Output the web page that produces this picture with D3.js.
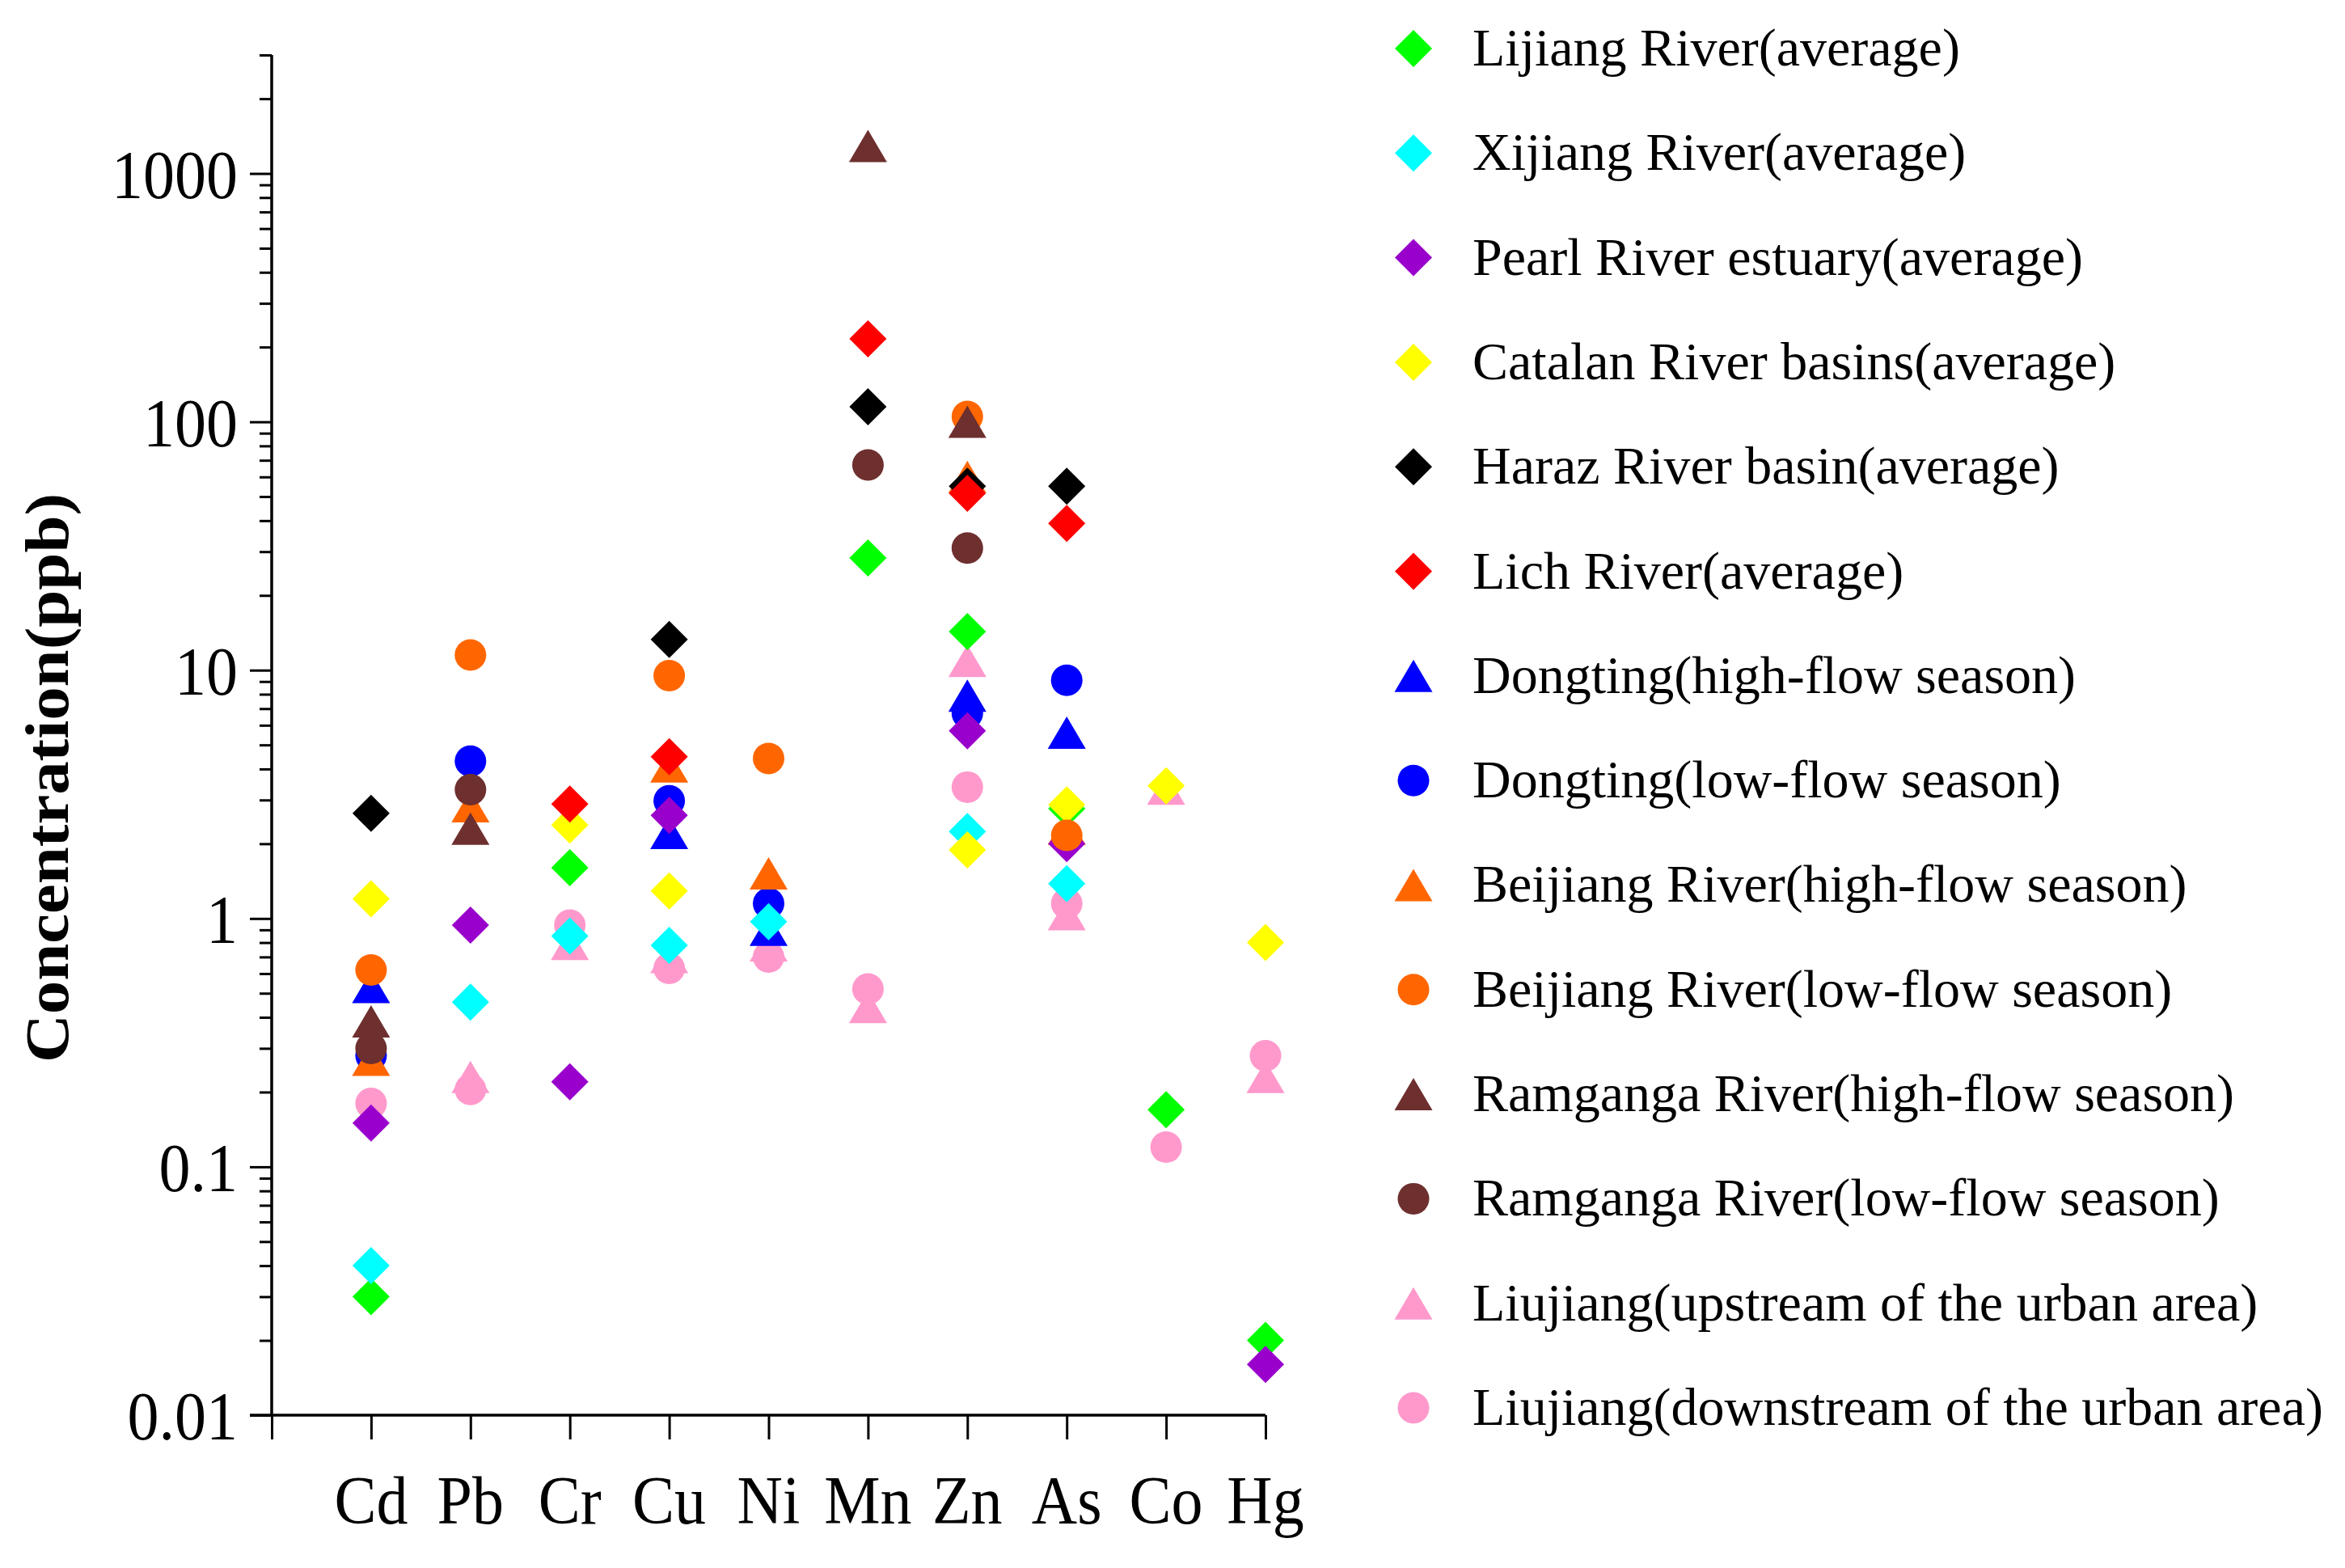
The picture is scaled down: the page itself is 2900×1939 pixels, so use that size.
<!DOCTYPE html>
<html>
<head>
<meta charset="utf-8">
<script src="https://cdn.jsdelivr.net/npm/d3@7.9.0/dist/d3.min.js"></script>
<style>
  body { margin: 0; background: #fff; }
  svg { display: block; }
  text { font-family: "Liberation Serif", "Times New Roman", serif; fill: #000; }
</style>
</head>
<body>
<div id="chart"></div>
<script>
// categories on the x axis
const elements = ['Cd', 'Pb', 'Cr', 'Cu', 'Ni', 'Mn', 'Zn', 'As', 'Co', 'Hg'];

const seriesNames = [
  'Lijiang River(average)',
  'Xijiang River(average)',
  'Pearl River estuary(average)',
  'Catalan River basins(average)',
  'Haraz River basin(average)',
  'Lich River(average)',
  'Dongting(high-flow season)',
  'Dongting(low-flow season)',
  'Beijiang River(high-flow season)',
  'Beijiang River(low-flow season)',
  'Ramganga River(high-flow season)',
  'Ramganga River(low-flow season)',
  'Liujiang(upstream of the urban area)',
  'Liujiang(downstream of the urban area)'
];
const seriesColors = ['#00ff00', '#00ffff', '#9900cc', '#ffff00', '#000000', '#ff0000',
  '#0000ff', '#0000ff', '#ff6600', '#ff6600', '#6e2f2f', '#6e2f2f', '#ff99cc', '#ff99cc'];
const seriesShapes = ['diamond', 'diamond', 'diamond', 'diamond', 'diamond', 'diamond',
  'triangle', 'circle', 'triangle', 'circle', 'triangle', 'circle', 'triangle', 'circle'];

// concentrations (ppb), one value per element, null = not reported
//                 Cd     Pb    Cr    Cu    Ni    Mn    Zn    As    Co    Hg
const lijiang   = [0.03,  null, 1.6,  null, null, 28.3, 14.3, 2.77, 0.17, 0.02];
const xijiang   = [0.04,  0.46, 0.85, 0.78, 0.97, null, 2.24, 1.38, null, null];
const pearl     = [0.15,  0.94, 0.22, 2.6,  null, null, 5.7,  2.0,  null, 0.016];
const catalan   = [1.2,   null, 2.38, 1.29, null, null, 1.89, 2.87, 3.42, 0.8];
const haraz     = [2.65,  null, null, 13.3, null, 115,  55,   55,   null, null];
const lich      = [null,  null, 2.89, 4.48, null, 216,  51.5, 39,   null, null];
const dongHigh  = [0.53,  null, null, 2.21, 0.9,  null, 7.9,  5.6,  null, null];
const dongLow   = [0.28,  4.3,  null, 2.98, 1.15, null, 6.7,  9.1,  null, null];
const beiHigh   = [0.27,  2.83, null, 4.1,  1.52, null, 60,   2.3,  null, null];
const beiLow    = [0.62,  11.5, null, 9.5,  4.41, null, 105,  2.16, null, null];
const ramHigh   = [0.385, 2.3,  null, null, null, 1290, 100,  null, null, null];
const ramLow    = [0.30,  3.3,  null, null, null, 67,   31,   null, null, null];
const liuUp     = [null,  0.23, 0.79, 0.7,  0.78, 0.44, 10.9, 1.04, 3.33, 0.23];
const liuDown   = [0.18,  0.205,0.94, 0.63, 0.70, 0.52, 3.38, 1.15, 0.12, 0.28];

const seriesValues = [lijiang, xijiang, pearl, catalan, haraz, lich, dongHigh, dongLow,
  beiHigh, beiLow, ramHigh, ramLow, liuUp, liuDown];

// order in which the series are painted (later ones sit on top)
const drawOrder = [12, 13, 0, 6, 7, 8, 1, 2, 3, 4, 5, 9, 10, 11];

const yMajorTicks = [0.01, 0.1, 1, 10, 100, 1000];
const yTickLabels = ['0.01', '0.1', '1', '10', '100', '1000'];

const width = 2900;
const height = 1939;

const svg = d3.select('#chart')
  .append('svg')
  .attr('width', width)
  .attr('height', height)
  .attr('viewBox', `0 0 ${width} ${height}`);

const plot = { left: 336, right: 1565, top: 68, bottom: 1750 };

const xScale = d3.scaleLinear()
  .domain([0, elements.length])
  .range([plot.left, plot.right]);

const yScale = d3.scaleLog()
  .domain([0.01, 3000])
  .range([plot.bottom, plot.top]);

// marker shapes
const DIA = 23, TRI_W = 47, TRI_H = 40, CIRC_R = 19.5;
function shapePath(shape) {
  if (shape === 'diamond') return `M0,${-DIA}L${DIA},0L0,${DIA}L${-DIA},0Z`;
  if (shape === 'triangle') return `M0,${-TRI_H / 2}L${TRI_W / 2},${TRI_H / 2}L${-TRI_W / 2},${TRI_H / 2}Z`;
  return d3.arc()({ innerRadius: 0, outerRadius: CIRC_R, startAngle: 0, endAngle: 2 * Math.PI });
}

// y axis: major ticks
const yAxis = d3.axisLeft(yScale)
  .tickValues(yMajorTicks)
  .tickSize(27)
  .tickFormat('');
const yAxisG = svg.append('g')
  .attr('transform', `translate(${plot.left},0)`)
  .call(yAxis);

// y axis: minor ticks
const minorTicks = yScale.ticks().filter(v => !yMajorTicks.includes(v));
minorTicks.push(3000);
svg.append('g')
  .attr('class', 'minor')
  .attr('transform', `translate(${plot.left},0)`)
  .call(d3.axisLeft(yScale).tickValues(minorTicks).tickSize(15).tickFormat(''))
  .call(g => g.select('.domain').remove());

// x axis
const xAxisG = svg.append('g')
  .attr('transform', `translate(0,${plot.bottom})`)
  .call(d3.axisBottom(xScale).tickValues(d3.range(0, elements.length + 1)).tickSize(30).tickFormat(''));

svg.selectAll('.domain').attr('stroke', '#000').attr('stroke-width', 3.5);
svg.selectAll('.tick line').attr('stroke', '#000').attr('stroke-width', 3);
xAxisG.select('.domain').attr('d', `M${plot.left - 27},0H${plot.right}`);
yAxisG.select('.domain').attr('d', `M0,${plot.top}V${plot.bottom}`);

// y tick labels
svg.append('g')
  .selectAll('text')
  .data(yMajorTicks)
  .join('text')
  .attr('transform', d => `translate(294,${yScale(d) + 30}) scale(1,1.09)`)
  .attr('text-anchor', 'end')
  .attr('font-size', 78)
  .text((d, i) => yTickLabels[i]);

// x category labels
svg.append('g')
  .selectAll('text')
  .data(elements)
  .join('text')
  .attr('transform', (d, i) => `translate(${xScale(i + 1)},1884) scale(1,1.09)`)
  .attr('text-anchor', 'middle')
  .attr('font-size', 78)
  .text(d => d);

// y axis title
svg.append('text')
  .attr('transform', 'translate(84,962) rotate(-90) scale(1.09,1)')
  .attr('text-anchor', 'middle')
  .attr('font-size', 76)
  .attr('font-weight', 'bold')
  .text('Concentration(ppb)');

// points
const points = svg.append('g').attr('class', 'points');
drawOrder.forEach(s => {
  const pts = seriesValues[s]
    .map((v, i) => ({ v, i }))
    .filter(d => d.v != null);
  points.append('g')
    .selectAll('path')
    .data(pts)
    .join('path')
    .attr('transform', d => `translate(${xScale(d.i + 1)},${yScale(d.v)})`)
    .attr('d', shapePath(seriesShapes[s]))
    .attr('fill', seriesColors[s]);
});

// legend
const legendY = d3.scalePoint()
  .domain(d3.range(seriesNames.length))
  .range([60, 1741]);
const legend = svg.append('g').attr('class', 'legend');
const rows = legend.selectAll('g')
  .data(seriesNames)
  .join('g')
  .attr('transform', (d, i) => `translate(1748,${legendY(i)})`);
rows.append('path')
  .attr('d', (d, i) => shapePath(seriesShapes[i]))
  .attr('fill', (d, i) => seriesColors[i]);
rows.append('text')
  .attr('x', 73)
  .attr('y', 21)
  .attr('font-size', 66)
  .text(d => d);
</script>
</body>
</html>
